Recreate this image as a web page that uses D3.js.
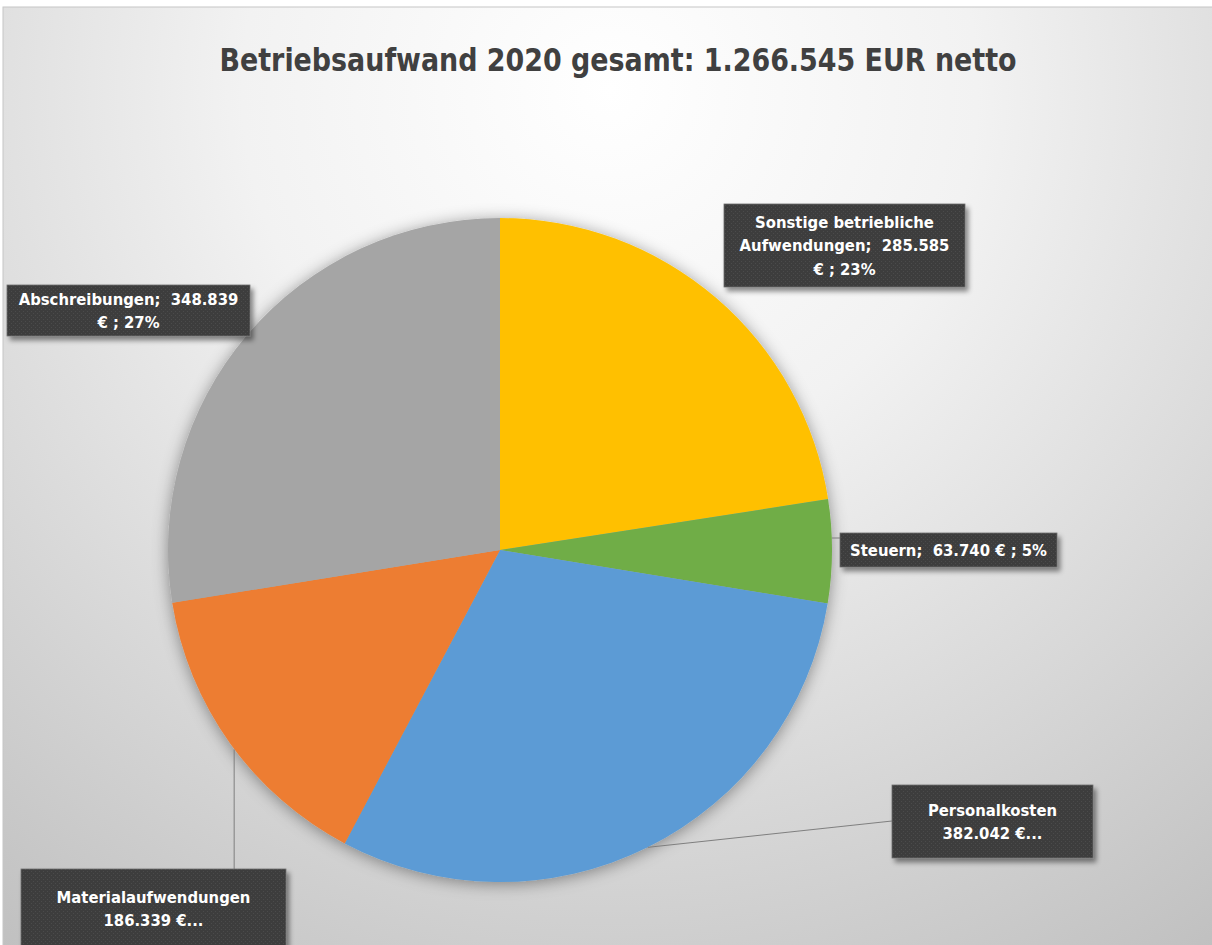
<!DOCTYPE html>
<html>
<head>
<meta charset="utf-8">
<script src="https://cdn.jsdelivr.net/npm/d3@7"></script>
<style>
  body { margin: 0; background: #fff; }
  text { font-family: "Liberation Sans Narrow", "DejaVu Sans Condensed", "Roboto Condensed", sans-serif; font-weight: bold; white-space: pre; }
</style>
</head>
<body>
<script>
const width = 1212;
const height = 945;

// data
const categories = ["Sonstige betriebliche Aufwendungen", "Steuern", "Personalkosten", "Materialaufwendungen", "Abschreibungen"];
const values = [285585, 63740, 382042, 186339, 348839];
const colors = ["#FFC000", "#70AD47", "#5B9BD5", "#ED7D31", "#A5A5A5"];
const titleText = "Betriebsaufwand 2020 gesamt: 1.266.545 EUR netto";
// label lines, {v} = value, {p} = percent (as Excel wrapped / truncated them)
const labelLines = [
  ["Sonstige betriebliche", "Aufwendungen;  {v}", "€ ; {p}"],
  ["Steuern;  {v} € ; {p}"],
  ["Personalkosten", "{v} €..."],
  ["Materialaufwendungen", "{v} €..."],
  ["Abschreibungen;  {v}", "€ ; {p}"]
];

// label box layout [x, y, w, h]
const labelBoxes = [
  [724, 204, 241, 83],
  [840, 533, 217, 34],
  [892, 785, 201, 73],
  [21, 869, 265, 79],
  [7, 285, 243, 51]
];

const cx = 500, cy = 550, r = 332;

const de = d3.formatLocale({ decimal: ",", thousands: ".", grouping: [3], currency: ["", " €"] });
const fmt = de.format(",d");
const total = d3.sum(values);

// percentages that add up to 100 (largest remainder, like Excel shows them)
const rawPct = values.map(v => v / total * 100);
const pcts = rawPct.map(Math.floor);
let rest = 100 - d3.sum(pcts);
d3.range(values.length)
  .sort((a, b) => (rawPct[b] - pcts[b]) - (rawPct[a] - pcts[a]))
  .slice(0, rest)
  .forEach(i => pcts[i] += 1);

const svg = d3.select("body").append("svg")
  .attr("width", width)
  .attr("height", height);

const defs = svg.append("defs");

const bg = defs.append("radialGradient")
  .attr("id", "bg")
  .attr("gradientUnits", "userSpaceOnUse")
  .attr("cx", 610).attr("cy", 90).attr("r", 1050);
bg.append("stop").attr("offset", 0).attr("stop-color", "#ffffff");
bg.append("stop").attr("offset", 0.35).attr("stop-color", "#f2f2f2");
bg.append("stop").attr("offset", 1).attr("stop-color", "#c0c0c0");

const pieShadow = defs.append("filter").attr("id", "pieShadow")
  .attr("x", "-20%").attr("y", "-20%").attr("width", "140%").attr("height", "140%");
pieShadow.append("feDropShadow")
  .attr("dx", 0).attr("dy", 2).attr("stdDeviation", 8)
  .attr("flood-color", "#000").attr("flood-opacity", 0.4);

const boxShadow = defs.append("filter").attr("id", "boxShadow")
  .attr("x", "-10%").attr("y", "-20%").attr("width", "130%").attr("height", "160%");
boxShadow.append("feDropShadow")
  .attr("dx", 3).attr("dy", 4).attr("stdDeviation", 2.5)
  .attr("flood-color", "#000").attr("flood-opacity", 0.45);

const dots = defs.append("pattern")
  .attr("id", "dots")
  .attr("patternUnits", "userSpaceOnUse")
  .attr("width", 4).attr("height", 4);
dots.append("rect").attr("width", 4).attr("height", 4).attr("fill", "#3d3d3d");
dots.append("rect").attr("x", 1).attr("y", 1).attr("width", 1).attr("height", 1).attr("fill", "#4c4c4c");
dots.append("rect").attr("x", 3).attr("y", 3).attr("width", 1).attr("height", 1).attr("fill", "#4c4c4c");

// chart area
svg.append("rect")
  .attr("x", 3).attr("y", 7)
  .attr("width", width - 2).attr("height", height - 6)
  .attr("fill", "url(#bg)")
  .attr("stroke", "#c6c6c6")
  .attr("stroke-width", 1);

// title
svg.append("text")
  .attr("x", 618)
  .attr("y", 71)
  .attr("text-anchor", "middle")
  .attr("font-size", 32)
  .attr("fill", "#404040")
  .attr("textLength", 797)
  .attr("lengthAdjust", "spacingAndGlyphs")
  .text(titleText);

// pie
const pie = d3.pie().sort(null).value(d => d);
const arcs = pie(values);
const arc = d3.arc().innerRadius(0).outerRadius(r);

const g = svg.append("g")
  .attr("transform", `translate(${cx},${cy})`)
  .attr("filter", "url(#pieShadow)");

g.selectAll("path")
  .data(arcs)
  .enter()
  .append("path")
  .attr("d", arc)
  .attr("fill", (d, i) => colors[i]);

// leader lines
function edgePoint(d) {
  const a = (d.startAngle + d.endAngle) / 2;
  return [cx + Math.sin(a) * r, cy - Math.cos(a) * r];
}
const leaders = svg.append("g")
  .attr("stroke", "#7f7f7f")
  .attr("stroke-width", 1)
  .attr("fill", "none");

// Steuern: horizontal to box
{
  const p = edgePoint(arcs[1]);
  const b = labelBoxes[1];
  leaders.append("line")
    .attr("x1", p[0]).attr("y1", b[1] + 5)
    .attr("x2", b[0]).attr("y2", b[1] + 5);
}
// Personalkosten: slanted to box left middle
{
  const p = edgePoint(arcs[2]);
  const b = labelBoxes[2];
  leaders.append("line")
    .attr("x1", p[0]).attr("y1", p[1])
    .attr("x2", b[0]).attr("y2", b[1] + 36);
}
// Materialaufwendungen: vertical down to box top
{
  const p = edgePoint(arcs[3]);
  const b = labelBoxes[3];
  leaders.append("line")
    .attr("x1", p[0] + 4).attr("y1", p[1] + 6)
    .attr("x2", p[0] + 4).attr("y2", b[1]);
}

// labels
const lineH = 23.5;
const labels = svg.append("g").selectAll("g")
  .data(arcs)
  .enter()
  .append("g");

labels.append("rect")
  .attr("x", (d, i) => labelBoxes[i][0])
  .attr("y", (d, i) => labelBoxes[i][1])
  .attr("width", (d, i) => labelBoxes[i][2])
  .attr("height", (d, i) => labelBoxes[i][3])
  .attr("fill", "url(#dots)")
  .attr("stroke", "#6e6e6e")
  .attr("stroke-width", 0.8)
  .attr("filter", "url(#boxShadow)");

labels.each(function(d, i) {
  const b = labelBoxes[i];
  const pct = pcts[i] + "%";
  const lines = labelLines[i].map(s => s.replace("{v}", fmt(d.value)).replace("{p}", pct));
  const midY = b[1] + (i === 3 ? 39.5 : b[3] / 2);
  const y0 = midY - (lines.length - 1) * lineH / 2;
  const t = d3.select(this).append("text")
    .attr("text-anchor", "middle")
    .attr("font-size", 16.5)
    .attr("fill", "#ffffff");
  lines.forEach((s, k) => {
    t.append("tspan")
      .attr("x", b[0] + b[2] / 2)
      .attr("y", y0 + k * lineH)
      .attr("dy", "0.36em")
      .text(s);
  });
});
</script>
</body>
</html>
